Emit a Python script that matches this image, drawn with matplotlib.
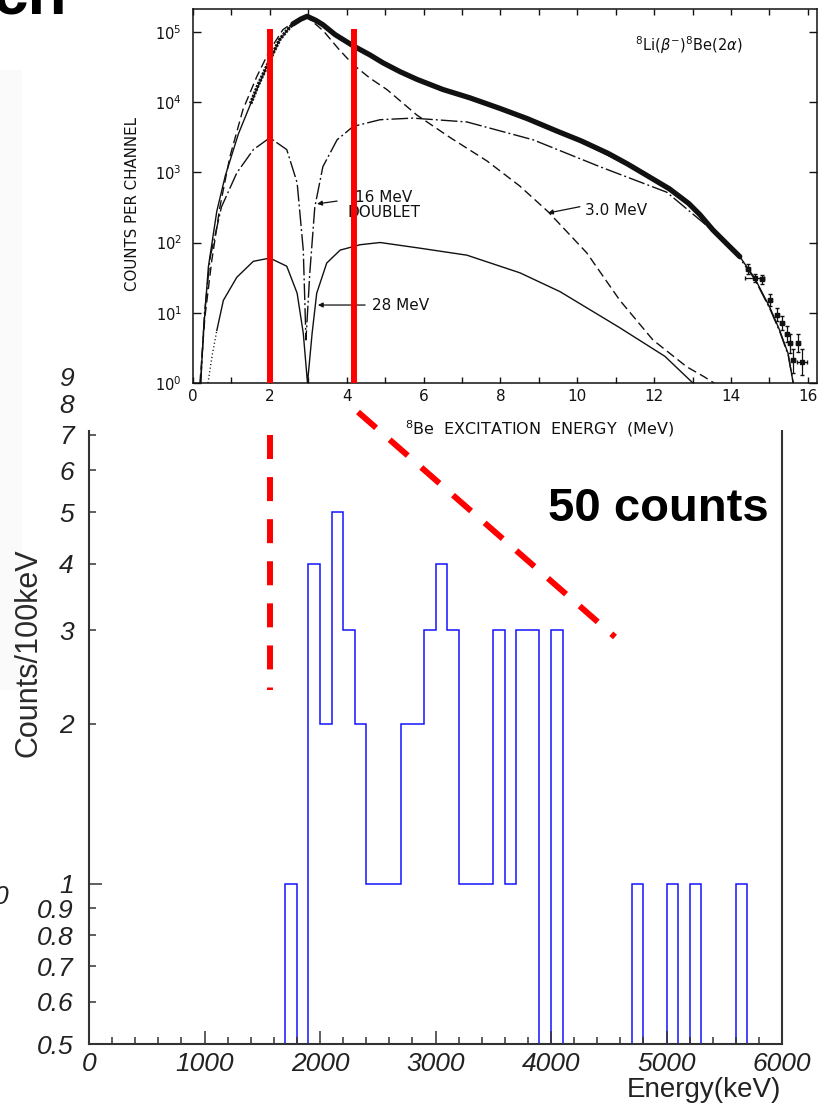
import numpy as np
import matplotlib
matplotlib.use("Agg")
import matplotlib.pyplot as plt
from matplotlib.lines import Line2D
from matplotlib.patches import Rectangle
from matplotlib.ticker import (FixedLocator, FixedFormatter, MultipleLocator,
                               NullLocator, NullFormatter)

plt.rcParams["lines.scale_dashes"] = False
plt.rcParams["font.family"] = ["DejaVu Sans"]
plt.rcParams["mathtext.fontset"] = "dejavusans"

W, H, DPI = 818, 1107, 100

# ---------------- alpha-energy histogram, counts per 100 keV ----------------
bin_edges_kev = np.arange(1700, 5701, 100)
counts_per_bin = [1, 0, 4, 2, 5, 3, 2, 1, 1, 1,
                  2, 2, 3, 4, 3, 1, 1, 1, 3, 1,
                  3, 3, 0, 3, 0, 0, 0, 0, 0, 0,
                  1, 0, 0, 1, 0, 1, 0, 0, 0, 1]
hist_xticks = [0, 1000, 2000, 3000, 4000, 5000, 6000]
hist_xticklabels = ["0", "1000", "2000", "3000", "4000", "5000", "6000"]
hist_ymajor = [1]
hist_ymajor_labels = ["1"]
hist_yminor = [0.5, 0.6, 0.7, 0.8, 0.9, 2, 3, 4, 5, 6, 7, 8, 9]
hist_yminor_labels = ["0.5", "0.6", "0.7", "0.8", "0.9",
                      "2", "3", "4", "5", "6", "7", "8", "9"]

# ---------------- 8Li beta-decay spectrum and R-matrix components ------------
# 3.0 MeV level (dashed)
e_3mev = [0.18, 0.31, 0.49, 0.70, 0.96, 1.30, 1.66, 2.00, 2.34, 2.70, 3.00,
          3.40, 3.80, 4.17, 4.60, 5.05, 5.83, 6.70, 7.65, 8.50, 9.24, 10.25,
          11.11, 11.97, 12.85, 13.30, 13.56]
c_3mev = [1.0, 8.7, 56, 3.2e2, 1.66e3, 7.8e3, 2.3e4, 5.5e4, 1.07e5, 1.48e5,
          1.58e5, 1.02e5, 5.6e4, 3.4e4, 2.2e4, 1.5e4, 6.5e3, 3.1e3, 1.45e3,
          6.4e2, 2.75e2, 71, 15, 4.1, 1.7, 1.23, 1.0]
# total fit (solid)
e_fit = [0.20, 0.27, 0.40, 0.62, 0.84, 1.18, 1.57, 1.92, 2.26, 2.60, 2.97,
         3.38, 3.80, 4.17, 4.95, 5.83, 6.70, 7.65, 8.50, 9.50, 10.30, 11.30,
         12.00, 12.40, 12.90, 13.20, 13.53, 14.23, 14.62, 15.01, 15.27, 15.49,
         15.62]
c_fit = [1.0, 5.1, 45, 2.8e2, 8.9e2, 3.5e3, 1.17e4, 3.2e4, 7.8e4, 1.32e5,
         1.62e5, 1.26e5, 8.5e4, 6.3e4, 3.6e4, 2.1e4, 1.41e4, 9.8e3, 6.3e3,
         3.8e3, 2.4e3, 1.26e3, 8.1e2, 5.8e2, 3.5e2, 2.4e2, 1.45e2, 63, 31, 12,
         5.6, 2.6, 1.0]
# 16 MeV doublet (long dash - dot)
e_doublet = [0.20, 0.30, 0.45, 0.74, 1.14, 1.57, 2.00, 2.44, 2.71, 2.87, 2.94,
             3.04, 3.17, 3.38, 3.75, 4.17, 4.87, 5.72, 7.13, 8.85, 10.59,
             12.33, 13.45, 14.23, 14.62, 15.01, 15.27, 15.49, 15.62]
c_doublet = [1.0, 10, 63, 3.2e2, 9.8e2, 2.1e3, 3.1e3, 2.1e3, 7.1e2, 78, 4.1,
             37, 3.2e2, 1.2e3, 2.9e3, 4.5e3, 5.6e3, 5.9e3, 5.2e3, 2.9e3,
             1.2e3, 5.2e2, 1.6e2, 60, 30, 11.5, 5.4, 2.5, 1.0]
# 28 MeV level (solid, dotted at the low-energy end)
e_28_dotted = [0.39, 0.50, 0.62]
c_28_dotted = [1.0, 2.5, 5.6]
e_28mev = [0.62, 0.79, 1.14, 1.57, 2.00, 2.44, 2.71, 2.87, 2.98, 3.10, 3.22,
           3.48, 3.83, 4.35, 4.87, 5.91, 7.13, 8.51, 9.55, 11.07, 12.28, 13.01]
c_28mev = [5.6, 15, 32, 54, 60, 46, 19, 5.1, 1.0, 5.1, 19, 51, 78, 93, 100,
           83, 66, 37, 20, 6.3, 2.4, 1.0]
# measured spectrum
e_data = [1.50, 1.70, 1.92, 2.10, 2.26, 2.45, 2.60, 2.80, 2.97, 3.20, 3.38,
          3.70, 4.17, 4.60, 4.95, 5.39, 5.83, 6.50, 7.20, 7.99, 8.70, 9.50,
          10.10, 10.80, 11.30, 11.80, 12.40, 12.90, 13.19, 13.53, 13.90, 14.23]
c_data = [9.5e3, 1.78e4, 3.2e4, 5.2e4, 7.8e4, 1.05e5, 1.29e5, 1.51e5, 1.66e5,
          1.45e5, 1.26e5, 9.1e4, 6.3e4, 4.7e4, 3.6e4, 2.7e4, 2.1e4, 1.51e4,
          1.15e4, 8.1e3, 5.8e3, 3.8e3, 2.8e3, 1.86e3, 1.32e3, 9.1e2, 5.8e2,
          3.6e2, 2.5e2, 1.51e2, 95, 63]
e_tail = [14.45, 14.62, 14.80, 15.01, 15.19, 15.32, 15.45, 15.53, 15.61,
          15.74, 15.85]
c_tail = [42, 31, 30, 15, 9.3, 7.1, 5.0, 3.7, 2.1, 3.7, 2.0]
c_tail_lo = [36, 27, 26, 12.5, 7.6, 5.6, 3.8, 2.7, 1.4, 2.8, 1.3]
c_tail_hi = [49, 36, 35, 18.5, 11.5, 9.0, 6.5, 5.0, 3.0, 5.0, 3.0]
e_tail_err = [0.05, 0.25, 0.05, 0.05, 0.05, 0.05, 0.05, 0.05, 0.05, 0.05, 0.12]
marked_energies_mev = [2.0, 4.19]


def fx(px):
    return px / W


def fy(py):
    return 1.0 - py / H


fig = plt.figure(figsize=(W / DPI, H / DPI), dpi=DPI, facecolor="white")

# ======================= lower panel: histogram =============================
lo_ymin, lo_ymax = 0.5, 9.6
px_per_decade = 531.6
lo_top = 1044 - px_per_decade * np.log10(lo_ymax / lo_ymin)
ax_b = fig.add_axes([fx(89), fy(1044), (782 - 89) / W, (1044 - lo_top) / H])
ax_b.set_zorder(0)

floor = 1e-2
vals = np.where(np.array(counts_per_bin) > 0, counts_per_bin, floor)
ax_b.stairs(vals, bin_edges_kev, baseline=floor, color="#1414ff", lw=1.1)

ax_b.set_yscale("log")
ax_b.set_xlim(0, 6000)
ax_b.set_ylim(lo_ymin, lo_ymax)
ax_b.xaxis.set_major_locator(FixedLocator(hist_xticks))
ax_b.xaxis.set_major_formatter(FixedFormatter(hist_xticklabels))
ax_b.xaxis.set_minor_locator(MultipleLocator(200))
ax_b.xaxis.set_minor_formatter(NullFormatter())
ax_b.yaxis.set_major_locator(FixedLocator(hist_ymajor))
ax_b.yaxis.set_major_formatter(FixedFormatter(hist_ymajor_labels))
ax_b.yaxis.set_minor_locator(FixedLocator(hist_yminor))
ax_b.yaxis.set_minor_formatter(FixedFormatter(hist_yminor_labels))
ax_b.tick_params(axis="both", which="both", direction="in", top=False,
                 right=False, color="#333333", width=1.1,
                 labelcolor="#222222", labelsize=19)
ax_b.tick_params(which="major", length=9.5)
ax_b.tick_params(which="minor", length=5)
ax_b.tick_params(axis="x", which="both", pad=6)
ax_b.tick_params(axis="y", which="both", pad=11)
for sp in ax_b.spines.values():
    sp.set_color("#333333")
    sp.set_linewidth(1.5)
for axis in (ax_b.xaxis, ax_b.yaxis):
    for t in axis.get_major_ticks() + axis.get_minor_ticks():
        for lab in (t.label1, t.label2):
            lab.set_fontfamily("Liberation Sans")
            lab.set_fontstyle("italic")

fig.text(fx(29), fy(653), "Counts/100keV", rotation=90, ha="center",
         va="center", fontsize=22, family="Liberation Sans", color="#2a2a2a")
fig.text(fx(781), fy(1090), "Energy(keV)", ha="right", va="center",
         fontsize=20, family="Liberation Sans", color="#222222", zorder=4)

# white backing of the inset spectrum
fig.add_artist(Rectangle((fx(82), fy(430)), 1 - fx(82), 430 / H,
                         transform=fig.transFigure, facecolor="white",
                         edgecolor="none", zorder=1))

# ======================= upper panel: 8Be spectrum ==========================
ax_t = fig.add_axes([fx(193), fy(383), 624 / W, (383 - 9.3) / H])
ax_t.set_zorder(2)
ax_t.set_yscale("log")
ax_t.set_xlim(0, 16.24)
ax_t.set_ylim(1, 10 ** 5.32)

ink = "#111111"
ax_t.plot(e_fit, c_fit, color=ink, lw=1.0)
ax_t.plot(e_3mev, c_3mev, color=ink, lw=1.0, dashes=(6.5, 3.2))
ax_t.plot(e_doublet, c_doublet, color=ink, lw=1.0,
          dashes=(12, 2.2, 1.4, 2.2))
ax_t.plot(e_28mev, c_28mev, color=ink, lw=1.0)
ax_t.plot(e_28_dotted, c_28_dotted, color=ink, lw=1.0, dashes=(0.8, 1.8))
ax_t.plot(e_data[:7], c_data[:7], color=ink, lw=2.6, dashes=(1.6, 0.9))
ax_t.plot(e_data[6:], c_data[6:], color=ink, lw=3.8,
          solid_capstyle="round", solid_joinstyle="round")
ax_t.errorbar(e_tail, c_tail,
              yerr=[np.array(c_tail) - np.array(c_tail_lo),
                    np.array(c_tail_hi) - np.array(c_tail)],
              xerr=e_tail_err, fmt="s", ms=3, color=ink, elinewidth=0.9,
              capsize=1.5)

ax_t.vlines(marked_energies_mev, 1, 1.1e5, color="#ff0000", lw=4.3, zorder=5)

ax_t.xaxis.set_major_locator(MultipleLocator(2))
ax_t.xaxis.set_minor_locator(MultipleLocator(1))
ax_t.yaxis.set_minor_locator(NullLocator())
ax_t.tick_params(axis="x", which="both", direction="in", top=True,
                 bottom=True, length=4, width=1.0, labelsize=11, pad=4,
                 color=ink, labelcolor=ink)
ax_t.tick_params(axis="y", which="both", direction="in", left=True,
                 right=True, length=6, width=1.0, labelsize=10.5, pad=8,
                 color=ink, labelcolor=ink)
for sp in ax_t.spines.values():
    sp.set_color(ink)
    sp.set_linewidth(1.1)

ax_t.set_ylabel("COUNTS PER CHANNEL", fontsize=10.8, color=ink)
ax_t.yaxis.set_label_coords(-0.085, 0.479)
ax_t.set_xlabel(r"$^{8}$Be  EXCITATION  ENERGY  (MeV)", fontsize=11.5,
                color=ink)
ax_t.xaxis.set_label_coords(0.556, -0.094)

ax_t.text(11.5, 10 ** 4.81, r"$^{8}$Li($\beta^{-}$)$^{8}$Be(2$\alpha$)",
          fontsize=10.5, color=ink, ha="left", va="center")

arrow_kw = dict(arrowstyle="-|>", lw=0.9, color=ink, mutation_scale=7,
                shrinkA=0, shrinkB=0)
ax_t.text(4.97, 10 ** 2.53, "16 MeV\nDOUBLET", fontsize=11, color=ink,
          ha="center", va="center", linespacing=1.0)
ax_t.annotate("", xy=(3.23, 10 ** 2.55), xytext=(3.75, 10 ** 2.59),
              arrowprops=arrow_kw)
ax_t.text(4.66, 10 ** 1.10, "28 MeV", fontsize=11, color=ink, ha="left",
          va="center")
ax_t.annotate("", xy=(3.25, 10 ** 1.11), xytext=(4.48, 10 ** 1.11),
              arrowprops=arrow_kw)
ax_t.text(10.2, 10 ** 2.46, "3.0 MeV", fontsize=11, color=ink, ha="left",
          va="center")
ax_t.annotate("", xy=(9.24, 10 ** 2.42), xytext=(10.07, 10 ** 2.51),
              arrowprops=arrow_kw)

# ======================= red guide lines between the panels =================
guide_red = dict(transform=fig.transFigure, color="#ff0000", lw=4.3,
                 dashes=(17.3, 13), dash_capstyle="butt", zorder=3)
fig.add_artist(Line2D([fx(270), fx(270)], [fy(435), fy(690)], **guide_red))
fig.add_artist(Line2D([fx(358), fx(615)], [fy(412), fy(637)], **guide_red))

fig.text(fx(548), fy(521), "50 counts", fontsize=34, fontweight="bold",
         family="Liberation Sans", ha="left", va="baseline", color="black",
         zorder=4)

# slide remnants around the figure
fig.add_artist(Rectangle((0, fy(690)), fx(22), (690 - 70) / H,
                         transform=fig.transFigure, facecolor="#fafafa",
                         edgecolor="none", zorder=0.5))
fig.text(fx(67), fy(13), "ch", fontsize=46, fontweight="bold",
         family="Liberation Sans", ha="right", va="baseline", color="black",
         zorder=4)
fig.text(fx(8), fy(897), "0", fontsize=19, style="italic",
         family="Liberation Sans", ha="right", va="center", color="#222222",
         zorder=4)

fig.savefig("out.png", dpi=DPI, facecolor="white")
